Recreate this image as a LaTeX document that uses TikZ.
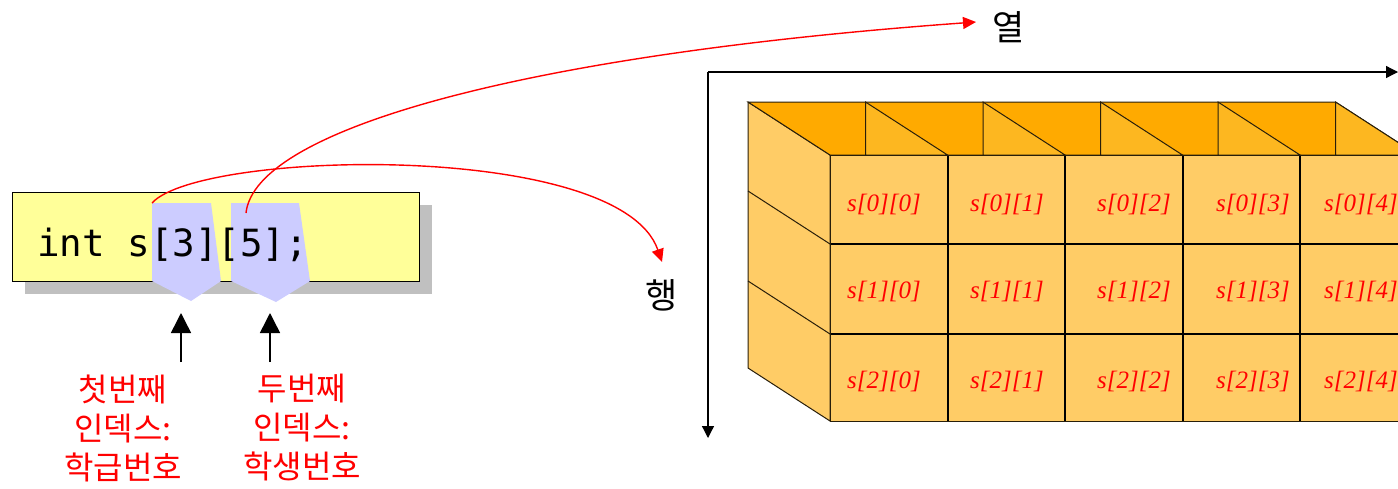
\documentclass[tikz,border=0pt]{standalone}
\usepackage{fontspec}
\setmainfont{Liberation Serif}
\newfontfamily\krfont{Noto Sans CJK KR}
\newfontfamily\monofont{DejaVu Sans Mono}
\usetikzlibrary{arrows.meta}
\definecolor{codeyellow}{RGB}{255,255,153}
\definecolor{codeshadow}{RGB}{192,192,192}
\definecolor{idxblue}{RGB}{204,204,255}
\definecolor{frontor}{RGB}{255,204,102}
\definecolor{topdark}{RGB}{255,170,0}
\definecolor{toptri}{RGB}{253,183,32}
\definecolor{edgecol}{RGB}{40,30,10}
\tikzset{
  redcurve/.style={draw=red, line width=1.4pt, -{Triangle[length=13pt,width=12pt]}},
  blackup/.style={draw=black, line width=1.5pt, -{Triangle[length=20pt,width=20pt]}},
  axisline/.style={draw=black, line width=1.3pt, -{Triangle[length=12pt,width=12pt]}},
  axislabel/.style={font=\krfont\fontsize{35}{38}\selectfont, text=black, inner sep=0pt},
  idxlabel/.style={font=\krfont\fontsize{32}{39}\selectfont, text=red, align=center, inner sep=0pt},
  celllabel/.style={font=\itshape\fontsize{25}{28}\selectfont, text=red, inner sep=0pt},
  faceedge/.style={draw=edgecol, line width=1pt},
  gridline/.style={draw=black, line width=2pt}
}
\begin{document}
\begin{tikzpicture}[x=1pt,y=-1pt]
\useasboundingbox (0,0) rectangle (1398,488);

% ---- code box ----
\fill[codeshadow] (25,205) rectangle (432,294);
\draw[fill=codeyellow, line width=1pt] (12,192) rectangle (419,281);
\fill[idxblue] (152,203) -- (211,203) -- (221,281) -- (191,301) -- (152,281) -- cycle;
\fill[idxblue] (231,203) -- (299,203) -- (310,281) -- (276,302) -- (231,281) -- cycle;
\node[font=\monofont\fontsize{37.5}{40}\selectfont, anchor=base west, inner sep=0pt] (code) at (37,256) {int s[3][5];};

\coordinate (p1) at (152,203);
\coordinate (p2) at (246,213);
\coordinate (rowtip) at (662,262);
\coordinate (coltip) at (976,22);

% ---- labels ----
\node[axislabel] (yeol) at (1009,27) {열};
\node[axislabel] (haeng) at (662,295) {행};

\node[idxlabel] (lab1) at (123,428) {첫번째\\인덱스:\\학급번호};
\node[idxlabel] (lab2) at (302,428) {두번째\\인덱스:\\학생번호};

\coordinate (a1s) at (181,362);
\coordinate (a1e) at (181,313);
\coordinate (a2s) at (270,362);
\coordinate (a2e) at (270,313);
\draw[blackup] (a1s) -- (a1e);
\draw[blackup] (a2s) -- (a2e);

% ---- axes ----
\coordinate (origin) at (708,72);
\coordinate (xend) at (1398,72);
\coordinate (yend) at (708,438);
\draw[axisline] (origin) -- (xend);
\draw[axisline] (origin) -- (yend);

% ---- 3D block ----
\filldraw[fill=frontor, faceedge] (748,102) -- (830,155) -- (830,421) -- (748,368) -- cycle;
\filldraw[fill=topdark, faceedge] (748,102) -- (1335.5,102) -- (1417.5,155) -- (830,155) -- cycle;
\foreach \k in {1,...,5}{
  \pgfmathsetmacro{\bx}{748+117.5*\k}
  \filldraw[fill=toptri, faceedge] (\bx,102) -- (\bx+82,155) -- (\bx,155) -- cycle;
}
\draw[faceedge] (748,191) -- (830,244);
\draw[faceedge] (748,281) -- (830,334);
\fill[frontor] (830,155) rectangle (1417.5,421);
\foreach \c in {1,...,4}{
  \pgfmathsetmacro{\fx}{830+117.5*\c}
  \draw[gridline] (\fx,155) -- (\fx,421);
}
\draw[gridline] (830,244) -- (1417.5,244);
\draw[gridline] (830,334) -- (1417.5,334);
\draw[faceedge] (830,155) rectangle (1417.5,421);

% ---- cell labels ----
\foreach \r/\ry in {0/204,1/291,2/381}{
  \foreach \c/\cx in {0/884,1/1007,2/1134,3/1253,4/1361}{
    \node[celllabel] (cell-\r-\c) at (\cx,\ry) {s[\r][\c]};
  }
}

% ---- red curves ----
\draw[redcurve] (p1) .. controls (200,150) and (620,140) .. (rowtip);
\draw[redcurve] (p2) .. controls (255,130) and (520,55) .. (coltip);
\end{tikzpicture}
\end{document}
